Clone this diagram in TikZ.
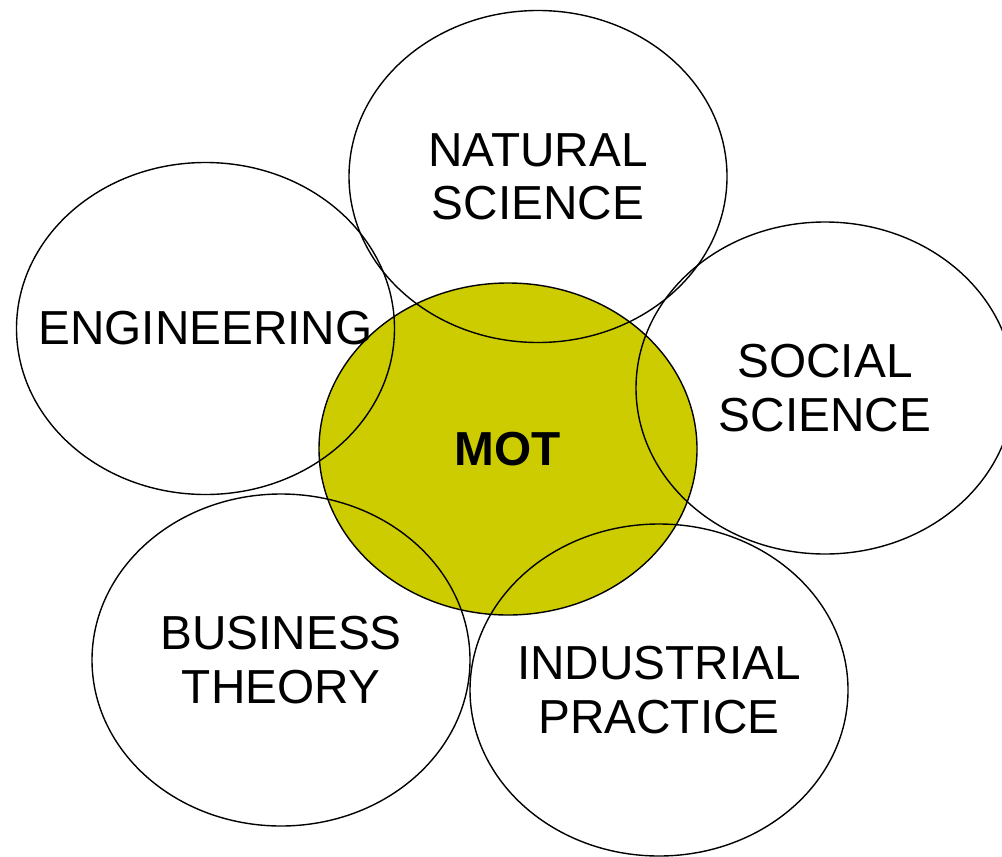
\documentclass[tikz,border=0pt]{standalone}
\usepackage{fontspec}
\setmainfont{Liberation Sans}
\usetikzlibrary{shapes.geometric}
\definecolor{motfill}{HTML}{CCCC00}
\begin{document}
\begin{tikzpicture}[x=0.75pt,y=-0.75pt,
  circ/.style={ellipse, draw=black, line width=1.05pt, minimum width=283.5pt, minimum height=249pt,
    inner sep=0pt},
  lbl/.style={inner sep=0pt, align=center, font=\fontsize{35.8}{39.9}\selectfont}]
\useasboundingbox (0,0) rectangle (1002,856);
\clip (0,0) rectangle (1002,856);
\node[circ, fill=motfill] (mot) at (508,449) {};
\node[circ] (nat) at (538,176.5) {};
\node[circ] (eng) at (205.5,328.5) {};
\node[circ] (soc) at (825,388) {};
\node[circ] (bus) at (281,660) {};
\node[circ] (ind) at (659,690) {};
\node[lbl, font=\fontsize{35.8}{39.9}\selectfont\bfseries] (motT) at (mot.center) {MOT};
\node[lbl] (natT) at (nat.center) {NATURAL\\SCIENCE};
\node[lbl] (engT) at (eng.center) {ENGINEERING};
\node[lbl] (socT) at (soc.center) {SOCIAL\\SCIENCE};
\node[lbl] (busT) at (bus.center) {BUSINESS\\THEORY};
\node[lbl] (indT) at (ind.center) {INDUSTRIAL\\PRACTICE};
\end{tikzpicture}
\end{document}
